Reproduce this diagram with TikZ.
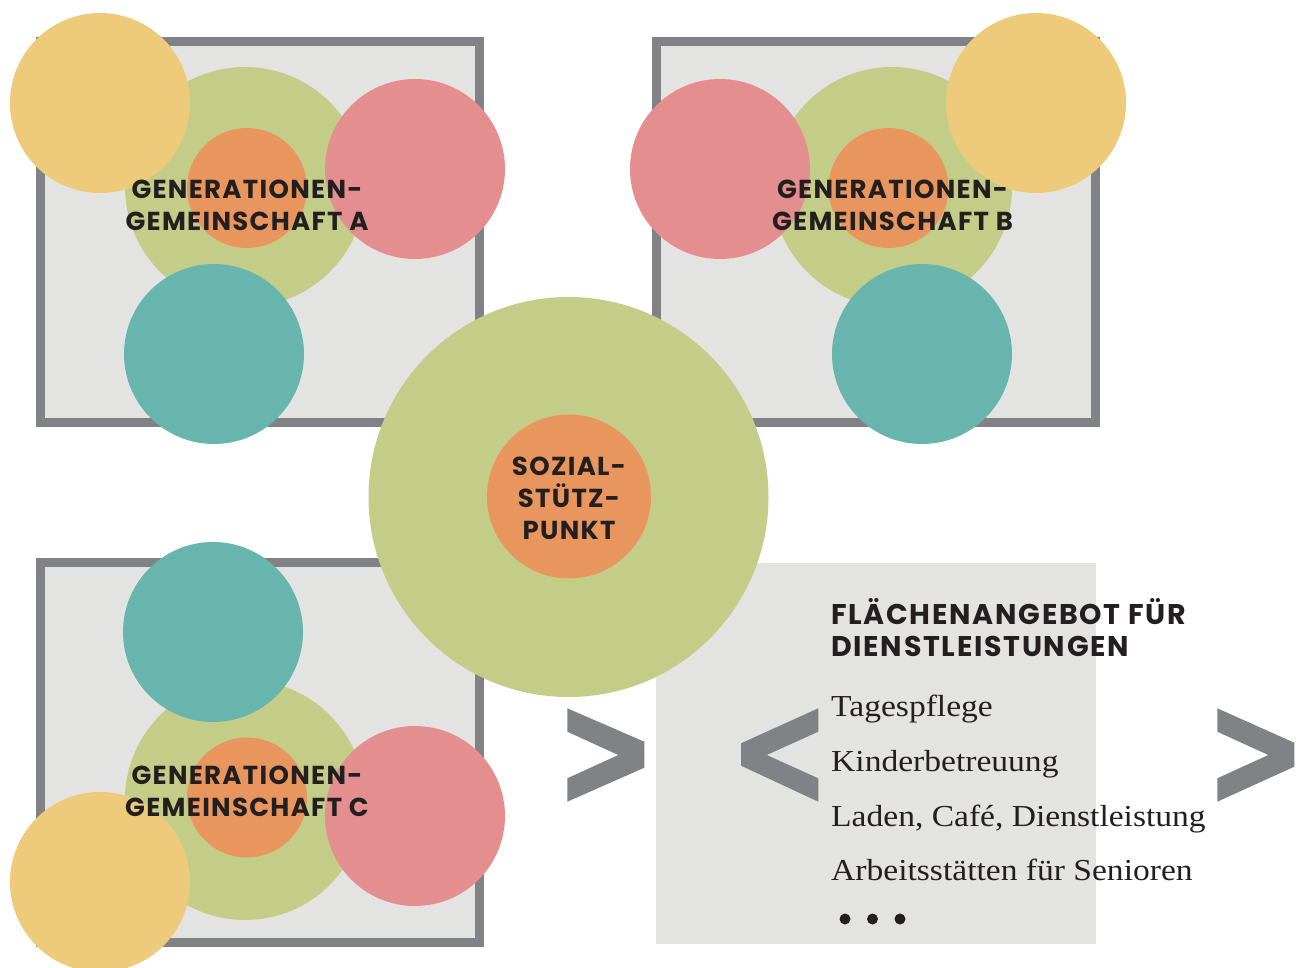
\documentclass[tikz,border=0pt]{standalone}
\usepackage{fontspec}
\newfontfamily\headfont[LetterSpace=5]{Poppins}
\newfontfamily\titlefont[LetterSpace=6]{Poppins}
\newfontfamily\bodyfont[FakeStretch=1.1]{Liberation Serif}
\definecolor{boxfill}{HTML}{E3E3E2}
\definecolor{boxline}{HTML}{818286}
\definecolor{cyellow}{HTML}{EECB7A}
\definecolor{cgreen}{HTML}{C4CD88}
\definecolor{corange}{HTML}{E8965E}
\definecolor{cpink}{HTML}{E58E90}
\definecolor{cteal}{HTML}{67B5AD}
\definecolor{ink}{HTML}{231F20}
\tikzset{
  area/.style={fill=boxfill, draw=boxline, line width=9pt},
  disc/.style={circle, inner sep=0pt, minimum size=#1, draw=none},
  small/.style={disc=180pt},
  heading/.style={text=ink, align=center, inner sep=0pt,
    font=\headfont\bfseries\fontsize{26}{32}\selectfont},
  title/.style={text=ink, align=left, inner sep=0pt,
    font=\titlefont\bfseries\fontsize{28.5}{32}\selectfont},
  item/.style={text=ink, inner sep=0pt, anchor=base west,
    font=\bodyfont\fontsize{30.5}{36}\selectfont},
  chevron/.style={fill=boxline, draw=none},
}
\begin{document}
\begin{tikzpicture}[x=1pt, y=-1pt]
\useasboundingbox (0,0) rectangle (1302,968);

% three community plots
\draw[area] (40.5,41.5) rectangle (479.5,422.5);
\draw[area] (656.5,41.5) rectangle (1095.5,422.5);
\draw[area] (40.5,562.5) rectangle (479.5,942.5);

% service area
\fill[boxfill] (656,563) rectangle (1096,944);

% community A
\node[disc=240pt, fill=cgreen] (gA) at (245,187) {};
\node[disc=120pt, fill=corange] (oA) at (247,188) {};
\node[small, fill=cyellow] (yA) at (100,103) {};
\node[small, fill=cpink] (pA) at (415,169) {};
\node[small, fill=cteal] (tA) at (214,354) {};
\node[heading] (lA) at (247,205) {GENERATIONEN-\\GEMEINSCHAFT A};

% community B
\node[disc=240pt, fill=cgreen] (gB) at (892,187) {};
\node[disc=120pt, fill=corange] (oB) at (888.5,188) {};
\node[small, fill=cyellow] (yB) at (1036,103) {};
\node[small, fill=cpink] (pB) at (720,169) {};
\node[small, fill=cteal] (tB) at (922,354) {};
\node[heading] (lB) at (892.5,205) {GENERATIONEN-\\GEMEINSCHAFT B};

% community C
\node[disc=240pt, fill=cgreen] (gC) at (245,800) {};
\node[disc=120pt, fill=corange] (oC) at (247,797.5) {};
\node[small, fill=cteal] (tC) at (213,632) {};
\node[small, fill=cpink] (pC) at (415,816) {};
\node[small, fill=cyellow] (yC) at (100,882) {};
\node[heading] (lC) at (247,791) {GENERATIONEN-\\GEMEINSCHAFT C};

% social hub
\node[disc=400pt, fill=cgreen] (hub) at (568.5,497) {};
\node[disc=164pt, fill=corange] (core) at (569,496.5) {};
\node[heading] (lhub) at (569,498.5) {SOZIAL-\\STÜTZ-\\PUNKT};

% services
\node[title, anchor=base west] (svc) at (831,656) {FLÄCHENANGEBOT FÜR\\DIENSTLEISTUNGEN};
\node[item] (s1) at (831,716) {Tagespflege};
\node[item] (s2) at (831,771) {Kinderbetreuung};
\node[item] (s3) at (831,826) {Laden, Café, Dienstleistung};
\node[item] (s4) at (831,880) {Arbeitsstätten für Senioren};
\fill[ink] (845,919) circle (5.5) (872.5,919) circle (5.5) (900,919) circle (5.5);

% chevrons
\fill[chevron] (567.3,708.3) -- (644.3,741.7) -- (644.3,767.7) -- (567.3,801.7)
  -- (567.3,778.3) -- (618.3,755) -- (567.3,731.7) -- cycle;
\fill[chevron] (818.3,708.3) -- (741,743.3) -- (741,765.7) -- (818.3,801.7)
  -- (818.3,778.3) -- (766.7,755) -- (818.3,731.7) -- cycle;
\fill[chevron] (1217.3,708.3) -- (1294.3,742.7) -- (1294.3,766.7) -- (1217.3,801.7)
  -- (1217.3,778.3) -- (1268.3,755) -- (1217.3,731.7) -- cycle;
\end{tikzpicture}
\end{document}
